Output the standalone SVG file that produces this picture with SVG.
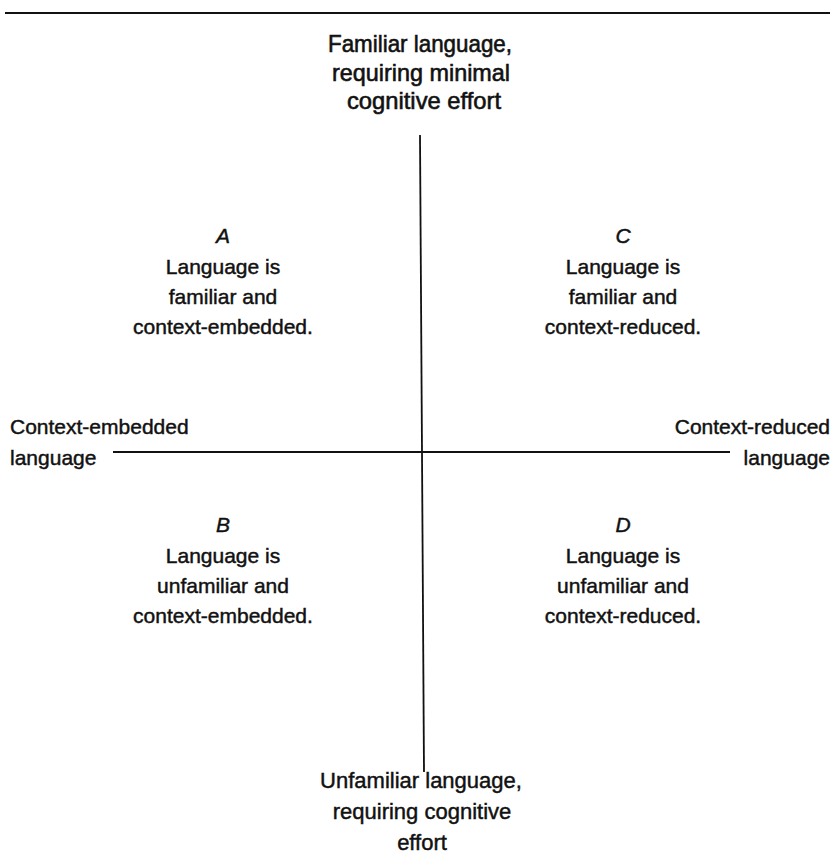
<svg xmlns="http://www.w3.org/2000/svg" width="834" height="857" viewBox="0 0 834 857">
<style>
text{font-family:"Liberation Sans",Arial,sans-serif;font-size:21px;fill:#111;stroke:#111;stroke-width:0.45;}
.c{text-anchor:middle;}
.r{text-anchor:end;}
.i{font-style:italic;}
.n{font-size:24px;stroke-width:0.6;}
.b{font-size:22px;}
.ln{stroke:#111;stroke-width:1.8;fill:none;}
</style>
<rect width="834" height="857" fill="#fff"/>
<line x1="5" y1="13" x2="830" y2="13" stroke="#111" stroke-width="2.2"/>
<g id="connectors">
<line class="ln" x1="420" y1="135" x2="424" y2="772"/>
<line class="ln" x1="113" y1="452" x2="730" y2="452"/>
</g>
<g id="top">
<text class="c n" x="420" y="52" textLength="184" lengthAdjust="spacingAndGlyphs">Familiar language,</text>
<text class="c n" x="421" y="81" textLength="178" lengthAdjust="spacingAndGlyphs">requiring minimal</text>
<text class="c n" x="424" y="109" textLength="154" lengthAdjust="spacingAndGlyphs">cognitive effort</text>
</g>
<g id="quadA">
<text class="c i" x="223" y="243">A</text>
<text class="c" x="223" y="274">Language is</text>
<text class="c" x="223" y="304">familiar and</text>
<text class="c" x="223" y="334">context-embedded.</text>
</g>
<g id="quadC">
<text class="c i" x="623" y="243">C</text>
<text class="c" x="623" y="274">Language is</text>
<text class="c" x="623" y="304">familiar and</text>
<text class="c" x="623" y="334">context-reduced.</text>
</g>
<g id="left">
<text x="10" y="434">Context-embedded</text>
<text x="10" y="465">language</text>
</g>
<g id="right">
<text class="r" x="830" y="434">Context-reduced</text>
<text class="r" x="830" y="465">language</text>
</g>
<g id="quadB">
<text class="c i" x="223" y="532">B</text>
<text class="c" x="223" y="563">Language is</text>
<text class="c" x="223" y="593">unfamiliar and</text>
<text class="c" x="223" y="623">context-embedded.</text>
</g>
<g id="quadD">
<text class="c i" x="623" y="532">D</text>
<text class="c" x="623" y="563">Language is</text>
<text class="c" x="623" y="593">unfamiliar and</text>
<text class="c" x="623" y="623">context-reduced.</text>
</g>
<g id="bottom">
<text class="c b" x="421" y="788">Unfamiliar language,</text>
<text class="c b" x="422" y="819">requiring cognitive</text>
<text class="c b" x="422" y="850">effort</text>
</g>
</svg>
